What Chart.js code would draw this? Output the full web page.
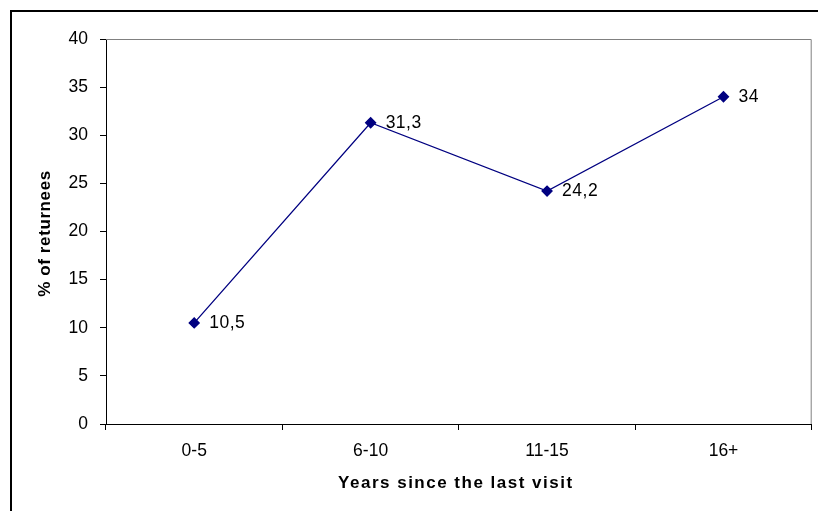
<!DOCTYPE html>
<html>
<head>
<meta charset="utf-8">
<script src="https://cdn.jsdelivr.net/npm/chart.js@4/dist/chart.umd.min.js"></script>
<style>
  html, body { margin: 0; padding: 0; background: #fff; }
  #wrap { position: relative; width: 818px; height: 511px; overflow: hidden; }
  #frame { position: absolute; left: 10px; top: 10px; width: 900px; height: 600px; border: 2px solid #000; box-sizing: border-box; }
  canvas { position: absolute; left: 0; top: 0; }
</style>
</head>
<body>
<div id="wrap">
  <div id="frame"></div>
  <canvas id="myChart" width="818" height="511"></canvas>
</div>
<script>
const categories = ['0-5', '6-10', '11-15', '16+']
const returnees = [10.5, 31.3, 24.2, 34]
const yTicks = [0, 5, 10, 15, 20, 25, 30, 35, 40]

const FONT = '"Liberation Sans", Arial, sans-serif'

// comma decimals like the original
function fmt(v) {
  return String(v).replace('.', ',')
}

// grey frame on top/right of plot, point labels, axis titles
const extras = {
  id: 'extras',
  afterDatasetsDraw(chart) {
    const ctx = chart.ctx
    const a = chart.chartArea
    ctx.save()
    ctx.strokeStyle = '#808080'
    ctx.lineWidth = 1
    ctx.beginPath()
    ctx.moveTo(a.left, a.top + 0.5)
    ctx.lineTo(a.right - 0.5, a.top + 0.5)
    ctx.lineTo(a.right - 0.5, a.bottom)
    ctx.stroke()

    ctx.fillStyle = '#000'
    ctx.font = '17.5px ' + FONT
    ctx.textAlign = 'left'
    ctx.textBaseline = 'middle'
    ctx.letterSpacing = '0.5px'
    const meta = chart.getDatasetMeta(0)
    meta.data.forEach((pt, i) => {
      ctx.fillText(fmt(returnees[i]), pt.x + 15, pt.y)
    })

    ctx.font = 'bold 17px ' + FONT
    ctx.textAlign = 'center'
    ctx.letterSpacing = '1.5px'
    ctx.fillText('Years since the last visit', (a.left + a.right) / 2 - 3, 483)
    ctx.letterSpacing = '0.6px'
    ctx.translate(45, (a.top + a.bottom) / 2 + 2)
    ctx.rotate(-Math.PI / 2)
    ctx.fillText('% of returnees', 0, 0)
    ctx.restore()
  }
}

const config = {
  type: 'line',
  data: {
    labels: categories,
    datasets: [{
      data: returnees,
      borderColor: '#000080',
      backgroundColor: '#000080',
      borderWidth: 1.3,
      pointStyle: 'rectRot',
      pointRadius: 5,
      pointHoverRadius: 5,
      tension: 0
    }]
  },
  options: {
    responsive: false,
    animation: false,
    events: [],
    layout: { padding: { top: 39, right: 3, left: 0, bottom: 0 } },
    plugins: {
      legend: { display: false },
      tooltip: { enabled: false }
    },
    scales: {
      x: {
        offset: true,
        grid: {
          offset: true,
          drawOnChartArea: false,
          drawTicks: true,
          tickLength: 6,
          color: '#000'
        },
        border: { color: '#000', width: 1 },
        ticks: {
          color: '#000',
          padding: 11,
          maxRotation: 0,
          font: { family: FONT, size: 17.5 }
        },
        afterFit(scale) { scale.height = 87 }
      },
      y: {
        min: 0,
        max: 40,
        afterBuildTicks(scale) { scale.ticks = yTicks.map(v => ({ value: v })) },
        grid: {
          drawOnChartArea: false,
          drawTicks: true,
          tickLength: 6,
          color: '#000'
        },
        border: { color: '#000', width: 1 },
        ticks: {
          color: '#000',
          padding: 12,
          font: { family: FONT, size: 17.5 }
        },
        afterFit(scale) { scale.width = 106 }
      }
    }
  },
  plugins: [extras]
}

const myChart = new Chart(document.getElementById('myChart'), config)
</script>
</body>
</html>
